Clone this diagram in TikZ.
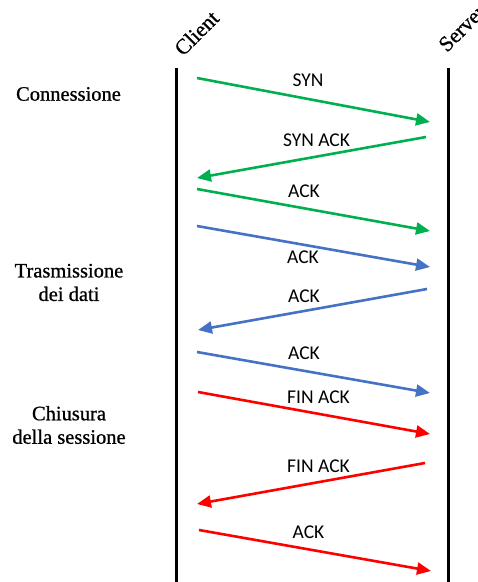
\documentclass[tikz,border=0pt]{standalone}
\usepackage{fontspec}
\setmainfont{Liberation Serif}
\newfontfamily\seriffont{Liberation Serif}[FakeBold = 0.8]
\newfontfamily\msgfont{Carlito}
\usetikzlibrary{arrows.meta}

\definecolor{synGreen}{RGB}{0,176,80}
\definecolor{dataBlue}{RGB}{68,114,196}
\definecolor{finRed}{RGB}{255,0,0}

\tikzset{
	lifeline/.style = {line width = 3pt},
	msg/.style = {line width = 2.6pt, ->},
	msglabel/.style = {font = \msgfont\fontsize{19.5}{21}\selectfont, inner sep = 0pt},
	phase/.style = {font = \seriffont\fontsize{20.5}{23.5}\selectfont, align = center, inner sep = 0pt},
	host/.style = {font = \seriffont\fontsize{21.5}{24}\selectfont, rotate = 45, anchor = base west, inner sep = 0pt}
}

\begin{document}
\begin{tikzpicture}[x = 1pt, y = -1pt, > = {Triangle[length = 14pt, width = 12pt]}]

	\useasboundingbox (0, 0) rectangle (478, 582);
	\clip (0, 0) rectangle (478, 582);

	% Hosts and lifelines

	\node [host] (client) at (183, 57) {Client};
	\node [host] (server) at (447, 53) {Server};

	\coordinate (clientTop) at (176, 68);
	\coordinate (clientBottom) at (176, 584);
	\coordinate (serverTop) at (448, 68);
	\coordinate (serverBottom) at (448, 584);

	\draw [lifeline] (clientTop) -- (clientBottom);
	\draw [lifeline] (serverTop) -- (serverBottom);

	% Phases

	\node [phase] (connect) at (68.5, 94) {Connessione};
	\node [phase] (transfer) at (69, 282.5) {Trasmissione\\dei dati};
	\node [phase] (close) at (69, 425) {Chiusura\\della sessione};

	% Connessione

	\coordinate (c1) at (197, 78);   \coordinate (s1) at (430, 122);
	\coordinate (s2) at (426, 137);  \coordinate (c2) at (197, 178);
	\coordinate (c3) at (197, 189);  \coordinate (s3) at (430, 231);

	\draw [msg, synGreen] (c1) -- (s1);
	\draw [msg, synGreen] (s2) -- (c2);
	\draw [msg, synGreen] (c3) -- (s3);

	\node [msglabel] (syn) at (308, 80) {SYN};
	\node [msglabel] (synack) at (316.5, 140) {SYN ACK};
	\node [msglabel] (ack1) at (304, 191) {ACK};

	% Trasmissione dei dati

	\coordinate (c4) at (197, 226);  \coordinate (s4) at (430, 267);
	\coordinate (s5) at (427, 289);  \coordinate (c5) at (198, 330);
	\coordinate (c6) at (197, 352);  \coordinate (s6) at (430, 393);

	\draw [msg, dataBlue] (c4) -- (s4);
	\draw [msg, dataBlue] (s5) -- (c5);
	\draw [msg, dataBlue] (c6) -- (s6);

	\node [msglabel] (ack2) at (303, 257) {ACK};
	\node [msglabel] (ack3) at (304, 296.5) {ACK};
	\node [msglabel] (ack4) at (304, 353) {ACK};

	% Chiusura della sessione

	\coordinate (c7) at (198, 392);  \coordinate (s7) at (430, 434);
	\coordinate (s8) at (425, 463);  \coordinate (c8) at (197, 504);
	\coordinate (c9) at (199, 530);  \coordinate (s9) at (431, 571);

	\draw [msg, finRed] (c7) -- (s7);
	\draw [msg, finRed] (s8) -- (c8);
	\draw [msg, finRed] (c9) -- (s9);

	\node [msglabel] (finack1) at (318.5, 397) {FIN ACK};
	\node [msglabel] (finack2) at (318.5, 466) {FIN ACK};
	\node [msglabel] (ack5) at (308.5, 532) {ACK};

\end{tikzpicture}
\end{document}
